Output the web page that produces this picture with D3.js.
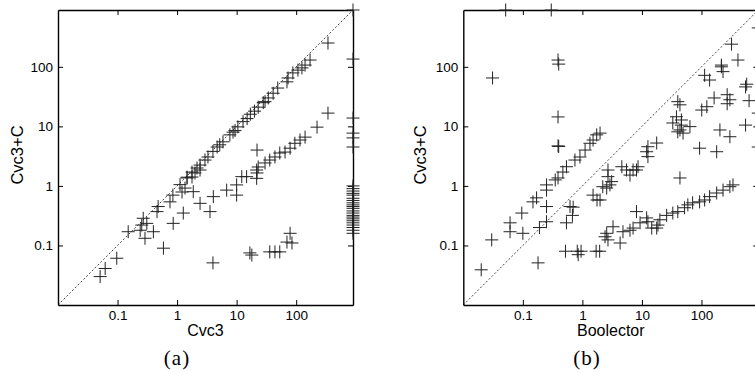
<!DOCTYPE html>
<html>
<head>
<meta charset="utf-8">
<script src="https://cdn.jsdelivr.net/npm/d3@7"></script>
<style>
  body { margin: 0; background: #fff; }
  svg { display: block; }
</style>
</head>
<body>
<svg id="chart" width="755" height="373"></svg>
<script>
// solver run times (seconds), log-log scatter, 900 s = timeout
const timeout = 900;
const tickValues = [0.1, 1, 10, 100];
const tickLabels = ["0.1", "1", "10", "100"];

// (a) Cvc3 vs Cvc3+C
const cvc3 = [
  342, 171, 141, 125, 107, 88, 73, 70, 49, 41, 34, 30, 28, 23, 20, 17, 15, 12.8, 10.5, 9.4,
  8.7, 7.7, 5.9, 5.2, 4.7, 4.0, 3.3, 2.94, 2.43, 2.16, 1.78, 1.47, 1.12, 1.36, 1.47, 1.78, 2.0, 2.43, 1.21,
  0.85, 0.76, 0.48, 0.46, 0.27, 0.255, 0.31, 0.24, 0.151, 0.097, 0.062, 0.051,
  0.289, 0.40, 0.59, 0.86, 1.27, 1.87, 2.43, 4.06, 3.57, 6.8, 10, 10, 14.7, 21.7, 21.7, 12.2,
  342, 224, 141, 116, 95, 79, 65, 53, 44, 36, 30, 23, 22, 22,
  4.0, 16.7, 18, 36, 44, 53, 70, 79, 85,
  900, 900, 900, 900, 900, 900,
  900, 900, 900, 900, 900, 900, 900, 900, 900, 900, 900,
  900, 900, 900, 900, 900, 900, 900, 900, 900, 900, 900
];
const cvc3cA = [
  251, 130, 107, 96, 88, 79, 65, 56, 44, 36, 30, 26, 25, 21, 18, 16, 13.5, 12, 9.8, 8.5,
  8.0, 7.2, 5.5, 4.9, 4.5, 3.8, 3.06, 2.72, 2.24, 2.0, 1.71, 1.40, 1.05, 0.92, 1.36, 1.41, 1.65, 1.85, 0.79,
  0.70, 0.54, 0.45, 0.37, 0.286, 0.22, 0.235, 0.18, 0.17, 0.061, 0.041, 0.030,
  0.132, 0.17, 0.09, 0.235, 0.35, 0.80, 0.51, 0.66, 0.37, 0.85, 1.04, 0.70, 1.43, 1.85, 1.34, 1.43,
  16.7, 9.7, 6.6, 5.9, 5.2, 4.3, 3.7, 3.57, 3.06, 2.72, 2.43, 2.08, 1.65, 4.0,
  0.051, 0.075, 0.069, 0.078, 0.078, 0.078, 0.114, 0.16, 0.11,
  900, 135, 13.8, 7.7, 6.4, 4.5,
  1.0, 0.9, 0.82, 0.75, 0.7, 0.62, 0.57, 0.52, 0.48, 0.45, 0.42,
  0.38, 0.35, 0.32, 0.3, 0.28, 0.26, 0.24, 0.22, 0.2, 0.18, 0.16
];

// (b) Boolector vs Cvc3+C
const boolector = [
  0.0515, 0.30, 0.031, 0.39, 0.40, 0.39, 0.39, 0.40,
  1.98, 1.74, 1.51, 1.34, 1.11, 0.91, 0.75, 0.54, 0.47, 0.39, 0.35, 0.25, 0.25, 0.17, 0.148, 0.25,
  0.096, 0.061, 0.061, 0.1, 0.25, 0.19, 0.03, 0.02, 0.18,
  0.54, 0.70, 0.68, 0.62, 1.51, 1.76,
  0.52, 0.82, 0.85, 0.95, 1.7, 1.95,
  2.4, 2.56, 2.69, 3.27, 4.3, 4.8, 6.3, 7.1, 8.1, 9.3, 12, 12.6, 14.6, 17.7, 18.6, 20, 26, 33, 40,
  52, 59, 71, 93, 113, 137, 180, 230, 300, 338, 43.5,
  1.98, 2.9, 2.56, 2.2, 2.69, 3.1, 6.3, 8.1, 5.5, 7.1, 8.6, 4.6, 2.69,
  38, 40, 33, 46, 43.5, 49, 64, 17.7, 12.6, 12, 12.6, 93, 180, 204, 300, 101, 123, 163, 270, 300,
  270, 550, 575, 630, 550, 113, 137, 216, 230, 216, 410, 320, 43.5, 46, 40,
  900, 900, 900
];
const cvc3cB = [
  900, 900, 65, 130, 111, 14.4, 4.7, 4.6,
  7.7, 7.2, 5.9, 5.2, 4.0, 3.06, 2.72, 2.1, 1.71, 1.36, 1.26, 1.04, 0.85, 0.63, 0.54, 0.45,
  0.35, 0.24, 0.17, 0.16, 0.25, 0.2, 0.124, 0.039, 0.051,
  0.24, 0.44, 0.32, 0.45, 0.70, 0.58,
  0.08, 0.08, 0.07, 0.08, 0.08, 0.08,
  0.14, 0.16, 0.124, 0.206, 0.11, 0.17, 0.18, 0.196, 0.37, 0.24, 0.29, 0.25, 0.196, 0.196, 0.22, 0.27, 0.32, 0.35, 0.37,
  0.43, 0.48, 0.52, 0.54, 0.58, 0.66, 0.76, 0.85, 0.97, 1.04, 1.36,
  0.58, 1.04, 0.92, 0.97, 1.43, 1.18, 1.52, 1.85, 1.85, 1.85, 2.1, 2.1, 1.85,
  14.5, 26, 11.4, 12.8, 8.7, 7.7, 9.9, 5.25, 4.55, 3.75, 3.1, 4.3, 3.75, 8.7, 6.7, 18.8, 21.4, 30, 34, 28,
  24, 46, 51, 27, 10.5, 72, 60, 100, 83, 107, 130, 240, 23, 10.5, 8.1,
  450, 16.7, 4.5
];

const panels = [
  { xs: cvc3, ys: cvc3cA, xLabel: "Cvc3", yLabel: "Cvc3+C", caption: "(a)", left: 58, top: 10, capX: 177, yLabX: 23 },
  { xs: boolector, ys: cvc3cB, xLabel: "Boolector", yLabel: "Cvc3+C", caption: "(b)", left: 463.3, top: 10, capX: 587, yLabX: 426 }
];

const size = 295;
const svg = d3.select("#chart");
const fmt = d => tickLabels[tickValues.indexOf(d)];

panels.forEach(p => {
  const x = d3.scaleLog().domain([0.01, timeout]).range([p.left, p.left + size]);
  const y = d3.scaleLog().domain([0.01, timeout]).range([p.top + size, p.top]);
  const g = svg.append("g");

  // diagonal y = x
  g.append("line")
    .attr("x1", x(0.01)).attr("y1", y(0.01))
    .attr("x2", x(timeout)).attr("y2", y(timeout))
    .attr("stroke", "#333").attr("stroke-width", 0.9)
    .attr("stroke-dasharray", "2,2");

  // axes, ticks pointing inward on all four sides
  g.append("g").attr("transform", `translate(0,${p.top + size})`)
    .call(d3.axisBottom(x).tickValues(tickValues).tickFormat(fmt).tickSizeInner(-5).tickSizeOuter(0).tickPadding(5));
  g.append("g").attr("transform", `translate(${p.left},0)`)
    .call(d3.axisLeft(y).tickValues(tickValues).tickFormat(fmt).tickSizeInner(-5).tickSizeOuter(0).tickPadding(5));
  g.append("g").attr("transform", `translate(0,${p.top})`)
    .call(d3.axisTop(x).tickValues(tickValues).tickFormat("").tickSizeInner(-5).tickSizeOuter(0));
  g.append("g").attr("transform", `translate(${p.left + size},0)`)
    .call(d3.axisRight(y).tickValues(tickValues).tickFormat("").tickSizeInner(-5).tickSizeOuter(0));

  g.selectAll(".domain").attr("stroke", "#000").attr("stroke-width", 1.4);
  g.selectAll(".tick line").attr("stroke", "#000").attr("stroke-width", 1);
  g.selectAll(".tick text")
    .attr("font-family", "'Liberation Sans', Arial, sans-serif")
    .attr("font-size", 13.5).attr("fill", "#000");

  // data points as plus markers
  g.selectAll(".pt")
    .data(p.xs.map((v, i) => [v, p.ys[i]]))
    .enter()
    .append("path")
    .attr("class", "pt")
    .attr("transform", d => `translate(${x(d[0])},${y(d[1])})`)
    .attr("d", "M-6.5,0H6.5M0,-6.5V6.5")
    .attr("stroke", "#222").attr("stroke-width", 1).attr("fill", "none");

  // labels
  g.append("text")
    .attr("x", p.left + size / 2).attr("y", 336)
    .attr("text-anchor", "middle")
    .attr("font-family", "'Liberation Sans', Arial, sans-serif")
    .attr("font-size", 16)
    .text(p.xLabel);
  g.append("text")
    .attr("transform", `translate(${p.yLabX},155) rotate(-90)`)
    .attr("text-anchor", "middle")
    .attr("font-family", "'Liberation Sans', Arial, sans-serif")
    .attr("font-size", 16.5)
    .text(p.yLabel);
  g.append("text")
    .attr("x", p.capX).attr("y", 365)
    .attr("text-anchor", "middle")
    .attr("font-family", "'Liberation Serif', 'Times New Roman', serif")
    .attr("font-size", 21)
    .attr("letter-spacing", 1)
    .text(p.caption);
});
</script>
</body>
</html>
